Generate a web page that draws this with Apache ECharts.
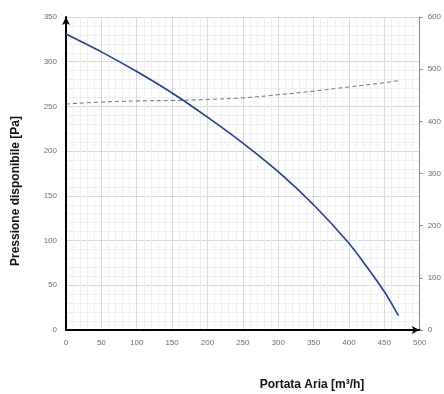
<!DOCTYPE html>
<html>
<head>
<meta charset="utf-8">
<script src="https://cdn.jsdelivr.net/npm/echarts@6/dist/echarts.min.js"></script>
<style>html,body{margin:0;padding:0;background:#fff;}#c{width:444px;height:394px;}</style>
</head>
<body>
<div id="c"></div>
<script>
const flowX = [0, 50, 100, 150, 200, 250, 300, 350, 400, 425, 450, 460, 470];
const pressure = [331, 311, 289, 265, 238, 209, 177, 140, 97, 71, 43, 30, 16];
const powerX = [0, 50, 100, 150, 200, 250, 300, 350, 400, 450, 470];
const power = [433, 437, 439, 440, 442, 445, 451, 458, 466, 474, 478];
const xTicks = [0, 500, 50];
const yLeftTicks = [0, 350, 50];
const yRightTicks = [0, 600, 100];

const chart = echarts.init(document.getElementById('c'), null, {renderer: 'canvas'});
const lblStyle = {color: '#6b6b78', fontSize: 8, fontFamily: 'Liberation Sans'};
chart.setOption({
  animation: false,
  backgroundColor: '#fff',
  grid: {left: 66, right: 22, top: 17, bottom: 64, containLabel: false},
  xAxis: {
    type: 'value', min: xTicks[0], max: xTicks[1], interval: xTicks[2],
    axisLine: {show: true, lineStyle: {color: '#000', width: 2}, symbol: ['none', 'arrow'], symbolSize: [6, 8]},
    axisTick: {show: false},
    axisLabel: Object.assign({margin: 9}, lblStyle),
    splitLine: {show: true, lineStyle: {color: '#d9d9d9', width: 1}},
    minorTick: {show: false, splitNumber: 5},
    minorSplitLine: {show: true, lineStyle: {color: '#f0f0f0', width: 1}}
  },
  yAxis: [{
    type: 'value', min: yLeftTicks[0], max: yLeftTicks[1], interval: yLeftTicks[2],
    axisLine: {show: true, lineStyle: {color: '#000', width: 2}, symbol: ['none', 'arrow'], symbolSize: [6, 8]},
    axisTick: {show: false},
    axisLabel: Object.assign({margin: 9}, lblStyle),
    splitLine: {show: true, lineStyle: {color: '#d9d9d9', width: 1}},
    minorTick: {show: false, splitNumber: 5},
    minorSplitLine: {show: true, lineStyle: {color: '#f0f0f0', width: 1}}
  }, {
    type: 'value', position: 'right', min: yRightTicks[0], max: yRightTicks[1], interval: yRightTicks[2],
    axisLine: {show: true, lineStyle: {color: '#8a8a8a', width: 1}},
    axisTick: {show: true, length: 3, lineStyle: {color: '#8a8a8a'}},
    axisLabel: Object.assign({margin: 8}, lblStyle),
    splitLine: {show: false}
  }],
  graphic: [{
    type: 'text',
    style: {text: 'Pressione disponibile [Pa]', fontSize: 12, fontWeight: 'bold', fill: '#111', fontFamily: 'Liberation Sans', textAlign: 'center', textVerticalAlign: 'middle'},
    x: 16, y: 191, rotation: Math.PI / 2
  }, {
    type: 'text',
    style: {text: 'Portata Aria [m³/h]', fontSize: 12, fontWeight: 'bold', fill: '#111', fontFamily: 'Liberation Sans', textAlign: 'center', textVerticalAlign: 'middle'},
    x: 312, y: 385
  }],
  series: [{
    type: 'line', yAxisIndex: 1, showSymbol: false, smooth: true,
    data: powerX.map((x, i) => [x, power[i]]),
    lineStyle: {color: '#707070', width: 1, type: [4, 3]}
  }, {
    type: 'line', yAxisIndex: 0, showSymbol: false, smooth: 0.25,
    data: flowX.map((x, i) => [x, pressure[i]]),
    lineStyle: {color: '#1f3f9e', width: 1.6}
  }]
});
</script>
</body>
</html>
